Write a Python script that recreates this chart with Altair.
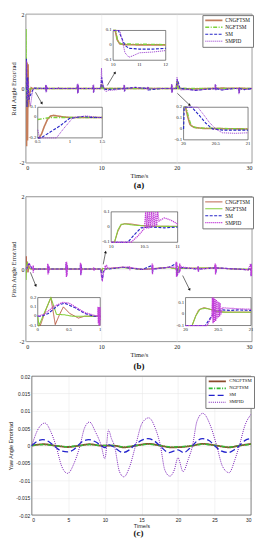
import altair as alt
import pandas as pd

SERIES = ["CNGFTSM", "NGFTSM", "SM", "SMPID"]
XTICKS = [0, 5, 10, 15, 20, 25, 30]
YTICKS_AB = [-2, -1.5, -1, -0.5, 0, 0.5, 1, 1.5, 2]
YTICKS_C = [-0.02, -0.015, -0.01, -0.005, 0, 0.005, 0.01, 0.015, 0.02]

# ---------------- (a) Roll angle error, main plot ----------------
ROLL_CNGFTSM = [(0, 0), (0.05, 0.8), (0.1, -1.55), (0.16, 0.7), (0.22, -1.4), (0.3, 0.65), (0.36, -0.5),
                (0.45, -0.15), (0.55, -0.1), (0.7, 0.02), (0.85, 0.0), (1.5, 0.0), (9.95, 0.0), (10.05, 0.12),
                (10.15, 0.02), (10.4, 0.0), (19.95, 0.0), (20.05, 0.2), (20.2, 0.0), (22.5, -0.01), (26, 0.01), (30, 0.0)]
ROLL_NGFTSM = [(0, 0), (0.03, 1.6), (0.08, -0.3), (0.15, 0.1), (0.3, -0.05), (0.5, -0.01), (1.5, 0), (9.95, 0),
               (10.05, 0.1), (10.2, 0.0), (19.95, 0.0), (20.05, 0.2), (20.2, 0.0), (30, 0.0)]
ROLL_SM = [(0, 0), (0.08, 0.8), (0.15, -0.5), (0.25, 0.3), (0.4, -0.3), (0.55, -0.2), (0.8, -0.1), (1.0, 0.0),
           (1.2, 0.01), (2.6, 0.0), (2.65, 0.08), (2.7, -0.08), (2.75, 0.06), (2.8, 0.0), (6.8, 0.0), (6.85, 0.1),
           (6.9, -0.12), (6.95, 0.08), (7.0, 0.0), (8.9, 0.0), (8.95, 0.08), (9.0, -0.1), (9.05, 0.0), (9.95, 0.0),
           (10.05, 0.3), (10.3, 0.0), (10.6, -0.025), (11.5, -0.02), (13.0, 0.0), (13.05, 0.08), (13.1, -0.07),
           (13.15, 0.0), (14.5, 0.03), (16.15, 0.0), (16.2, 0.04), (16.25, -0.04), (18, 0.0), (19.3, 0.0),
           (19.35, 0.1), (19.4, -0.1), (19.45, 0.0), (19.95, 0.0), (20.1, 0.25), (20.45, 0.0), (21.5, -0.02),
           (22.5, -0.05), (24, -0.02), (25.1, 0.0), (25.15, 0.1), (25.2, -0.04), (25.25, 0.0), (26, -0.04),
           (27.5, 0.0), (28.25, 0.0), (28.3, -0.12), (28.35, 0.0), (29, -0.03), (30, 0.0)]
ROLL_SMPID = [(0, 0), (0.1, 0.75), (0.2, -0.3), (0.3, 0.2), (0.45, -0.3), (0.6, -0.47), (0.7, -0.35), (0.79, -0.2),
              (0.9, -0.08), (1.05, 0.0), (1.25, 0.015), (1.5, 0.0), (2.6, 0.0), (2.64, 0.1), (2.68, -0.1),
              (2.72, 0.09), (2.76, -0.08), (2.8, 0.05), (2.84, 0.0), (4.3, 0.0), (4.33, 0.04), (4.36, 0.0),
              (6.78, 0.0), (6.82, 0.12), (6.86, -0.14), (6.9, 0.13), (6.94, -0.12), (6.98, 0.08), (7.02, 0.0),
              (8.88, 0.0), (8.92, 0.1), (8.96, -0.12), (9.0, 0.1), (9.04, -0.08), (9.08, 0.0), (9.95, 0.0),
              (10.03, 0.55), (10.1, 0.2), (10.25, 0.1), (10.35, 0.03), (10.45, -0.05), (10.6, -0.08),
              (10.75, -0.07), (11, -0.05), (11.5, -0.045), (12, -0.035), (12.98, 0.0), (13.02, 0.1),
              (13.06, -0.08), (13.1, 0.09), (13.14, -0.06), (13.18, 0.0), (14.5, 0.03), (16.12, 0.0),
              (16.16, 0.05), (16.2, -0.05), (16.24, 0.04), (16.28, 0.0), (18, 0.0), (19.28, 0.0), (19.32, 0.12),
              (19.36, -0.12), (19.4, 0.1), (19.44, -0.1), (19.48, 0.0), (19.95, 0.0), (20.05, 0.3), (20.12, 0.2),
              (20.22, 0.15), (20.3, 0.06), (20.4, 0.0), (20.5, -0.035), (20.6, -0.04), (20.8, -0.035),
              (21.5, -0.03), (22.5, -0.05), (24, -0.02), (25.08, 0.0), (25.12, 0.12), (25.16, -0.05),
              (25.2, 0.1), (25.24, -0.04), (25.28, 0.0), (26, -0.04), (27.5, 0.0), (28.22, 0.0), (28.26, -0.15),
              (28.3, 0.02), (28.34, -0.12), (28.38, 0.0), (29, -0.03), (30, 0.0)]

# (a) inset 1: t 0.5..1.5, y -0.2..0.1
A1_CNGFTSM = [(0.5, -0.2), (0.52, -0.2), (0.56, -0.16), (0.6, -0.09), (0.65, -0.02), (0.7, 0.015), (0.75, 0.02),
              (0.8, 0.015), (0.9, 0.005), (1.0, 0.0), (1.2, 0.0), (1.5, 0.0)]
A1_NGFTSM = [(0.5, -0.02), (0.6, -0.01), (0.7, 0.0), (1.0, 0.0), (1.5, 0.0)]
A1_SM = [(0.5, -0.2), (0.55, -0.2), (0.7, -0.14), (0.85, -0.08), (0.99, -0.01), (1.1, 0.0), (1.2, 0.01),
         (1.35, 0.0), (1.5, 0.0)]
A1_SMPID = [(0.5, -0.12), (0.53, -0.2), (0.79, -0.2), (0.9, -0.11), (1.05, 0.0), (1.25, 0.015), (1.45, 0.0),
            (1.5, 0.0)]
# (a) inset 2: t 10..12, y -0.1..0.1
A2_CNGFTSM = [(10.0, 0.1), (10.08, 0.1), (10.15, 0.04), (10.25, 0.01), (10.4, 0.005), (11, 0.003), (12, 0.003)]
A2_NGFTSM = [(10.0, 0.1), (10.1, 0.1), (10.17, 0.03), (10.3, 0.01), (12, 0.005)]
A2_SM = [(10.0, 0.1), (10.2, 0.1), (10.3, 0.06), (10.45, 0.0), (10.6, -0.02), (11, -0.025), (11.5, -0.025),
         (12, -0.02)]
A2_SMPID = [(10.0, 0.1), (10.25, 0.1), (10.35, 0.03), (10.45, -0.05), (10.6, -0.08), (10.75, -0.07),
            (11, -0.05), (11.5, -0.045), (12, -0.035)]
# (a) inset 3: t 20..21, y -0.1..0.2
A3_CNGFTSM = [(20.0, 0.2), (20.03, 0.2), (20.07, 0.1), (20.1, 0.04), (20.16, 0.015), (20.3, 0.005), (21, 0.0)]
A3_NGFTSM = [(20.0, 0.2), (20.04, 0.2), (20.08, 0.1), (20.12, 0.03), (20.2, 0.01), (21, 0.0)]
A3_SM = [(20.0, 0.0), (20.01, 0.2), (20.13, 0.2), (20.25, 0.12), (20.35, 0.05), (20.45, 0.0), (20.6, -0.01),
         (21, -0.01)]
A3_SMPID = [(20.0, 0.2), (20.22, 0.2), (20.3, 0.14), (20.4, 0.06), (20.5, 0.0), (20.6, -0.035), (20.8, -0.04),
            (21, -0.035)]

# ---------------- (b) Pitch angle error, main plot ----------------
PITCH_CNGFTSM = [(0, 0), (0.04, 0.35), (0.08, -0.1), (0.15, 0.15), (0.22, 0.2), (0.28, -0.09), (0.4, 0.1),
                 (0.5, 0.03), (0.7, 0.0), (9.95, 0.0), (10.05, -0.1), (10.15, 0.02), (10.5, 0.005),
                 (12.8, 0.05), (15.5, -0.01), (19, 0.05), (20.0, 0.0), (20.1, -0.1), (20.28, 0.06),
                 (20.6, 0.02), (25, 0.03), (28, 0.0), (29.5, -0.02), (30, 0.0)]
PITCH_NGFTSM = [(0, 0), (0.03, -0.3), (0.1, 0.1), (0.21, 0.2), (0.3, 0.02), (0.45, 0.015), (0.6, 0.0),
                (9.95, 0.0), (10.05, -0.1), (10.2, 0.02), (10.6, 0.005), (12.8, 0.04), (15.5, -0.01),
                (19, 0.04), (20, 0.0), (20.1, -0.1), (20.3, 0.055), (20.6, 0.02), (25, 0.03), (28, 0.0),
                (30, 0.0)]
PITCH_SM = [(0, 0), (0.17, 0.03), (0.33, 0.12), (0.43, 0.14), (0.6, 0.09), (0.75, 0.03), (0.9, 0.0), (2.9, 0.0),
            (2.95, 0.1), (3.0, -0.12), (3.05, 0.05), (3.1, 0.0), (5.3, 0.0), (5.35, 0.15), (5.4, -0.18),
            (5.45, 0.12), (5.5, 0.0), (7.2, 0.0), (7.25, 0.12), (7.3, -0.15), (7.35, 0.1), (7.4, 0.0),
            (9.95, 0.0), (10.05, -0.2), (10.15, -0.32), (10.25, -0.1), (10.45, 0.0), (11, 0.0), (12.8, 0.05),
            (15.5, -0.01), (16.75, 0.1), (16.8, -0.12), (16.85, 0.0), (19, 0.05), (19.95, 0.15), (20.0, -0.2),
            (20.05, 0.1), (20.1, -0.15), (20.3, -0.1), (20.42, 0.0), (20.6, 0.04), (21, 0.035), (22.8, 0.0),
            (22.85, 0.06), (22.9, -0.06), (23, 0.0), (25, 0.03), (25.15, 0.1), (25.2, -0.12), (25.25, 0.03),
            (28, 0.0), (29.5, -0.02), (29.85, 0.1), (29.9, -0.2), (29.95, 0.05), (30, 0.0)]
PITCH_SMPID = [(0, 0), (0.1, 0.02), (0.25, 0.1), (0.4, 0.15), (0.5, 0.14), (0.6, 0.1), (0.75, 0.04), (0.9, 0.01),
               (0.96, 0.0), (0.97, 0.1), (0.98, -0.1), (0.99, 0.1), (1.0, -0.05), (1.1, 0.0), (2.85, 0.0),
               (2.9, 0.15), (2.94, -0.15), (2.98, 0.12), (3.02, -0.12), (3.06, 0.08), (3.1, 0.0), (5.3, 0.0),
               (5.34, 0.2), (5.38, -0.22), (5.42, 0.2), (5.46, -0.18), (5.5, 0.1), (5.55, 0.0), (7.2, 0.0),
               (7.24, 0.17), (7.28, -0.18), (7.32, 0.15), (7.36, -0.12), (7.4, 0.0), (8.95, 0.0), (9.0, 0.05),
               (9.05, -0.05), (9.1, 0.0), (9.95, 0.0), (10.05, -0.25), (10.15, -0.3), (10.3, -0.1),
               (10.45, -0.03), (10.52, 0.1), (10.58, -0.01), (10.64, 0.1), (10.7, 0.1), (10.8, 0.06),
               (11, 0.02), (12.8, 0.05), (13.75, 0.06), (13.8, -0.03), (13.85, 0.04), (15.5, -0.01),
               (16.72, 0.0), (16.76, 0.15), (16.8, -0.15), (16.84, 0.12), (16.88, 0.0), (19, 0.05),
               (19.9, 0.05), (19.94, 0.2), (19.98, -0.22), (20.02, 0.18), (20.06, -0.2), (20.12, -0.1),
               (20.3, -0.1), (20.41, 0.15), (20.45, -0.07), (20.5, 0.1), (20.56, 0.06), (21, 0.045),
               (22.8, 0.0), (22.84, 0.08), (22.88, -0.08), (22.92, 0.0), (25, 0.03), (25.12, 0.15),
               (25.16, -0.15), (25.2, 0.12), (25.24, -0.05), (25.3, 0.03), (28, 0.0), (29.5, -0.02),
               (29.82, 0.15), (29.86, -0.2), (29.9, 0.12), (29.94, -0.18), (30, 0.0)]

# (b) inset 1: t 0..1, y -0.1..0.2
B1_CNGFTSM = [(0.0, -0.1), (0.04, -0.1), (0.12, 0.05), (0.21, 0.2), (0.28, -0.09), (0.35, 0.02), (0.41, 0.1),
              (0.51, 0.03), (0.65, -0.02), (0.75, 0.0), (1.0, 0.0)]
B1_NGFTSM = [(0.0, 0.0), (0.02, -0.1), (0.12, 0.06), (0.21, 0.2), (0.3, 0.02), (0.43, 0.015), (0.55, 0.0),
             (1.0, 0.0)]
B1_SM = [(0.0, 0.0), (0.06, 0.0), (0.17, 0.03), (0.33, 0.12), (0.43, 0.14), (0.6, 0.09), (0.75, 0.03),
         (0.9, 0.0), (1.0, 0.0)]
B1_SMPID = [(0.0, 0.0), (0.1, 0.02), (0.25, 0.1), (0.4, 0.15), (0.5, 0.14), (0.6, 0.1), (0.75, 0.04),
            (0.9, 0.01), (0.96, 0.0), (0.965, 0.1), (0.97, -0.08), (0.975, 0.1), (0.98, -0.1), (0.985, 0.1),
            (0.99, -0.1), (0.995, 0.1), (1.0, -0.05)]
# (b) inset 2: t 10..11, y -0.1..0.1
B2_CNGFTSM = [(10.0, -0.1), (10.05, -0.1), (10.1, -0.03), (10.15, 0.015), (10.2, 0.022), (10.3, 0.02),
              (10.45, 0.01), (10.6, 0.005), (11, 0.005)]
B2_NGFTSM = [(10.0, -0.1), (10.05, -0.1), (10.1, -0.02), (10.15, 0.018), (10.22, 0.02), (10.35, 0.012),
             (10.6, 0.005), (11, 0.004)]
B2_SM = [(10.0, -0.1), (10.25, -0.1), (10.35, -0.05), (10.45, -0.005), (10.6, 0.0), (10.8, -0.005), (11, 0.0)]
B2_SMPID = [(10.0, -0.1), (10.3, -0.1), (10.4, -0.06), (10.5, -0.01), (10.52, 0.1), (10.535, -0.01),
            (10.55, 0.1), (10.565, -0.01), (10.58, 0.1), (10.595, -0.005), (10.61, 0.1), (10.625, 0.0),
            (10.64, 0.1), (10.655, 0.0), (10.67, 0.1), (10.685, 0.01), (10.7, 0.1), (10.72, 0.04),
            (10.8, 0.06), (10.9, 0.045), (11, 0.02)]
# (b) inset 3: t 20..21, y -0.1..0.15
B3_CNGFTSM = [(20.0, -0.1), (20.1, -0.1), (20.15, -0.02), (20.2, 0.04), (20.28, 0.06), (20.35, 0.05),
              (20.45, 0.03), (20.6, 0.02), (21, 0.02)]
B3_NGFTSM = [(20.0, -0.1), (20.1, -0.1), (20.16, -0.01), (20.22, 0.045), (20.3, 0.055), (20.4, 0.04),
             (20.55, 0.02), (21, 0.018)]
B3_SM = [(20.0, -0.1), (20.3, -0.1), (20.37, -0.04), (20.42, 0.0), (20.45, 0.03), (20.56, 0.04), (20.7, 0.035),
         (20.8, 0.04), (21, 0.035)]
B3_SMPID = [(20.0, -0.1), (20.33, -0.1), (20.4, -0.02), (20.41, 0.15), (20.42, -0.08), (20.43, 0.15),
            (20.44, -0.07), (20.45, 0.14), (20.46, -0.06), (20.47, 0.13), (20.48, -0.04), (20.49, 0.12),
            (20.5, -0.03), (20.51, 0.11), (20.52, -0.02), (20.53, 0.1), (20.54, 0.0), (20.56, 0.06),
            (20.65, 0.055), (20.8, 0.05), (21, 0.045)]

# ---------------- (c) Yaw angle error ----------------
YAW_CNGFTSM = [(0, 0), (1.6, 0.0004), (3.2, 0), (4.9, -0.0004), (6.5, 0), (7.9, 0.0004), (9.5, 0), (11.2, 0),
               (12.6, -0.0005), (14.2, 0), (16, 0.0005), (17.6, 0), (19, -0.0005), (20.5, -0.0004), (22, 0),
               (23.4, 0.0005), (25.3, 0), (27, -0.0005), (28.4, 0), (30, 0.0005)]
YAW_NGFTSM = [(0, 0), (1.6, 0.0003), (3.2, 0), (4.9, -0.0003), (6.5, 0), (7.9, 0.0003), (9.5, 0), (11.2, 0),
              (12.6, -0.0004), (14.2, 0), (16, 0.0004), (17.6, 0), (19, -0.0004), (20.5, -0.0003), (22, 0),
              (23.4, 0.0004), (25.3, 0), (27, -0.0004), (28.4, 0), (30, 0.0004)]
YAW_SM = [(0, 0), (0.7, 0.0012), (1.5, 0.0017), (2.3, 0.0012), (3.0, 0), (4.0, -0.0015), (4.9, -0.0018),
          (5.7, -0.0012), (6.3, 0), (7.0, 0.0013), (7.8, 0.0017), (8.7, 0.0011), (9.5, 0), (10.0, -0.0006),
          (10.5, 0.0003), (11.2, -0.0004), (12.5, -0.002), (13.3, -0.0013), (14.0, 0), (15.0, 0.0015),
          (15.9, 0.002), (16.8, 0.0013), (17.5, 0), (18.8, -0.002), (20.0, -0.0012), (20.8, -0.002),
          (21.5, -0.001), (22.0, 0), (22.7, 0.0015), (23.4, 0.002), (24.3, 0.0014), (25.0, 0), (26.0, -0.0016),
          (26.9, -0.002), (27.7, -0.0012), (28.4, 0), (29.2, 0.0015), (30, 0.002)]
YAW_SMPID = [(0, 0), (0.8, 0.0045), (1.8, 0.0065), (2.6, 0.004), (3.3, 0), (4.1, -0.006), (4.9, -0.008),
             (5.8, -0.005), (6.6, 0), (7.2, 0.005), (7.9, 0.0068), (8.7, 0.004), (9.5, 0), (10.0, -0.0038),
             (10.5, 0.0045), (10.9, 0.002), (11.3, 0), (12.0, -0.0075), (12.6, -0.009), (13.4, -0.006),
             (14.2, 0), (15.1, 0.0065), (16.0, 0.008), (16.9, 0.005), (17.6, 0), (18.2, -0.007),
             (18.9, -0.0088), (19.5, -0.007), (20.0, -0.0035), (20.7, -0.0075), (21.4, -0.004), (22.0, 0),
             (22.6, 0.007), (23.4, 0.0093), (24.4, 0.006), (25.3, 0), (26.1, -0.006), (27.0, -0.0078),
             (27.8, -0.004), (28.4, 0), (29.2, 0.006), (30, 0.009)]

# arrows: (tail t, tail v, tip t, tip v) in main-plot data units
ARROWS_A = [(1.28, -0.1, 2.1, -0.39), (10.8, 0.08, 11.8, 0.42), (20.1, -0.13, 21.7, -0.44)]
ARROWS_B = [(0.6, -0.09, 1.3, -0.45), (10.26, 0.13, 10.57, 0.46), (20.8, -0.18, 21.7, -0.56)]


def long_df(d):
    rows = []
    for s, pts in d.items():
        for i, (t, v) in enumerate(pts):
            rows.append({"series": s, "t": t, "v": v, "i": i})
    return pd.DataFrame(rows)


def enc_style(style, leg):
    return dict(
        color=alt.Color("series:N", scale=alt.Scale(domain=SERIES, range=style["colors"]), legend=leg),
        strokeDash=alt.StrokeDash("series:N", scale=alt.Scale(domain=SERIES, range=style["dashes"]), legend=leg),
        strokeWidth=alt.StrokeWidth("series:N", scale=alt.Scale(domain=SERIES, range=style["widths"]), legend=leg),
        order=alt.Order("i:Q"),
    )


def make_legend(font, fs, lx, ly):
    return alt.Legend(orient="none", legendX=lx, legendY=ly, title=None, symbolType="stroke",
                      symbolSize=300, clipHeight=6.6, labelFontSize=fs, labelFont=font, labelColor="#111",
                      fillColor="white", strokeColor="#777", padding=2, rowPadding=0, labelOffset=2,
                      columnPadding=0)


def inset(d, xdom, ydom, xr, yr, xt, xl, yt, yl, style, leg, font):
    xs = alt.Scale(domain=xdom, range=xr, nice=False, zero=False)
    ys = alt.Scale(domain=ydom, range=yr, nice=False, zero=False)
    frame = alt.Chart(pd.DataFrame({"x0": [xdom[0]], "x1": [xdom[1]], "y0": [ydom[0]], "y1": [ydom[1]]})).mark_rect(
        fill="white", stroke="#333", strokeWidth=0.6).encode(
        x=alt.X("x0:Q", scale=xs, axis=None), x2="x1:Q", y=alt.Y("y0:Q", scale=ys, axis=None), y2="y1:Q")
    lines = alt.Chart(long_df(d)).mark_line().encode(
        x=alt.X("t:Q", scale=xs, axis=None), y=alt.Y("v:Q", scale=ys, axis=None), **enc_style(style, leg))
    xlab = alt.Chart(pd.DataFrame({"x": xt, "y": [ydom[0]] * len(xt), "lab": xl})).mark_text(
        baseline="top", dy=1.5, fontSize=4.8, font=font, color="#222").encode(
        x=alt.X("x:Q", scale=xs, axis=None), y=alt.Y("y:Q", scale=ys, axis=None), text="lab:N")
    ylab = alt.Chart(pd.DataFrame({"x": [xdom[0]] * len(yt), "y": yt, "lab": yl})).mark_text(
        align="right", baseline="middle", dx=-1.5, fontSize=4.8, font=font, color="#222").encode(
        x=alt.X("x:Q", scale=xs, axis=None), y=alt.Y("y:Q", scale=ys, axis=None), text="lab:N")
    return alt.layer(frame, lines, xlab, ylab)


def arrows_layer(arrows, ydom, angles):
    rows_l, rows_h = [], []
    for k, (t0, v0, t1, v1) in enumerate(arrows):
        rows_l += [{"a": k, "t": t0, "v": v0, "o": 0}, {"a": k, "t": t1, "v": v1, "o": 1}]
        rows_h.append({"a": k, "t": t1, "v": v1, "ang": angles[k]})
    xs = alt.Scale(domain=[0, 30], nice=False, zero=False)
    ys = alt.Scale(domain=ydom, nice=False, zero=False)
    ln = alt.Chart(pd.DataFrame(rows_l)).mark_line(color="#111", strokeWidth=0.6).encode(
        x=alt.X("t:Q", scale=xs), y=alt.Y("v:Q", scale=ys), detail="a:N", order="o:Q")
    hd = alt.Chart(pd.DataFrame(rows_h)).mark_point(shape="triangle", filled=True, color="#111", size=9,
                                                   opacity=1).encode(
        x=alt.X("t:Q", scale=xs), y=alt.Y("v:Q", scale=ys),
        angle=alt.Angle("ang:Q", scale=None))
    return [ln, hd]


def axis(vals, title, font, lfs, tfs, **kw):
    return alt.Axis(values=vals, title=title, grid=True, labelFont=font, titleFont=font, labelFontSize=lfs,
                    titleFontSize=tfs, labelExpr="'' + datum.value", titleFontWeight="normal",
                    labelOverlap=False, labelBound=False, **kw)


def main_chart(d, ydom, yticks, ytitle, style, leg, font, label_fs, title_fs):
    xs = alt.Scale(domain=[0, 30], nice=False, zero=False)
    ys = alt.Scale(domain=ydom, nice=False, zero=False)
    return alt.Chart(long_df(d)).mark_line(clip=True).encode(
        x=alt.X("t:Q", scale=xs, axis=axis(XTICKS, "Time/s", font, label_fs, title_fs)),
        y=alt.Y("v:Q", scale=ys, axis=axis(yticks, ytitle, font, label_fs, title_fs)),
        **enc_style(style, leg))


SERIF = "Liberation Serif"
SANS = "Liberation Sans"
STYLE_A = {"colors": ["#C47D5A", "#7CD23A", "#2626C8", "#9A3FD0"],
           "dashes": [[1, 0], [4, 1.5, 1, 1.5], [3, 1.5], [1.2, 0.8]],
           "widths": [1.6, 0.9, 1.1, 0.9]}
STYLE_B = {"colors": ["#B0482E", "#86CE3C", "#2626C8", "#C23FD8"],
           "dashes": [[1, 0], [1, 0], [3, 1.5], [1.2, 0.8]],
           "widths": [0.9, 1.3, 1.0, 0.9]}
STYLE_C = {"colors": ["#8B4A2B", "#33BB33", "#2222CC", "#7A1FB8"],
           "dashes": [[1, 0], [4, 1.5, 1, 1.5], [6, 3], [1, 1.1]],
           "widths": [1.8, 1.0, 1.6, 1.2]}

W = 228
HA, HB, HC = 150, 146, 140
WC = 227
CSHIFT = 6
LFS = 6

# ---- panel (a)
leg_a = make_legend(SERIF, 5.3, W - 50, 1)
main_a = main_chart({"CNGFTSM": ROLL_CNGFTSM, "NGFTSM": ROLL_NGFTSM, "SM": ROLL_SM, "SMPID": ROLL_SMPID},
                    [-2, 2], YTICKS_AB, "Roll Angle Error/rad", STYLE_A, leg_a, SERIF, LFS, 6.5)
arr_a = arrows_layer(ARROWS_A, [-2, 2], [151, 30, 134])
ins_a1 = inset({"CNGFTSM": A1_CNGFTSM, "NGFTSM": A1_NGFTSM, "SM": A1_SM, "SMPID": A1_SMPID},
               [0.5, 1.5], [-0.2, 0.1], [12, 77], [HA * 0.832, HA * 0.626],
               [0.5, 1, 1.5], ["0.5", "1", "1.5"], [0.1, 0, -0.2], ["0.1", "0", "-0.2"], STYLE_A, leg_a, SERIF)
ins_a2 = inset({"CNGFTSM": A2_CNGFTSM, "NGFTSM": A2_NGFTSM, "SM": A2_SM, "SMPID": A2_SMPID},
               [10, 12], [-0.1, 0.1], [88, 141], [HA * 0.31, HA * 0.11],
               [10, 11, 12], ["10", "11", "12"], [0.1, 0, -0.1], ["0.1", "0", "-0.1"], STYLE_A, leg_a, SERIF)
ins_a3 = inset({"CNGFTSM": A3_CNGFTSM, "NGFTSM": A3_NGFTSM, "SM": A3_SM, "SMPID": A3_SMPID},
               [20, 21], [-0.1, 0.2], [159, 224], [HA * 0.845, HA * 0.626],
               [20, 20.5, 21], ["20", "20.5", "21"], [0.2, 0.1, 0, -0.1], ["0.2", "0.1", "0", "-0.1"],
               STYLE_A, leg_a, SERIF)
panel_a = alt.layer(alt.layer(main_a, *arr_a), ins_a1, ins_a2, ins_a3).resolve_scale(
    x="independent", y="independent").properties(
    width=W, height=HA,
    title=alt.TitleParams("(a)", orient="bottom", font=SERIF, fontSize=9, fontWeight="bold", offset=2))

# ---- panel (b)
leg_b = make_legend(SERIF, 5.3, W - 50, 0)
main_b = main_chart({"CNGFTSM": PITCH_CNGFTSM, "NGFTSM": PITCH_NGFTSM, "SM": PITCH_SM, "SMPID": PITCH_SMPID},
                    [-2, 2], YTICKS_AB, "Pitch Angle Error/rad", STYLE_B, leg_b, SERIF, LFS, 6.5)
arr_b = arrows_layer(ARROWS_B, [-2, 2], [158, 11, 154])
ins_b1 = inset({"CNGFTSM": B1_CNGFTSM, "NGFTSM": B1_NGFTSM, "SM": B1_SM, "SMPID": B1_SMPID},
               [0, 1], [-0.1, 0.2], [12, 75], [HB * 0.890, HB * 0.697],
               [0, 0.5, 1], ["0", "0.5", "1"], [0.2, 0.1, 0, -0.1], ["0.2", "0.1", "0", "-0.1"],
               STYLE_B, leg_b, SERIF)
ins_b2 = inset({"CNGFTSM": B2_CNGFTSM, "NGFTSM": B2_NGFTSM, "SM": B2_SM, "SMPID": B2_SMPID},
               [10, 11], [-0.1, 0.1], [86, 153], [HB * 0.315, HB * 0.105],
               [10, 10.5, 11], ["10", "10.5", "11"], [0.1, 0, -0.1], ["0.1", "0", "-0.1"], STYLE_B, leg_b, SERIF)
ins_b3 = inset({"CNGFTSM": B3_CNGFTSM, "NGFTSM": B3_NGFTSM, "SM": B3_SM, "SMPID": B3_SMPID},
               [20, 21], [-0.1, 0.15], [161, 227], [HB * 0.890, HB * 0.697],
               [20, 20.5, 21], ["20", "20.5", "21"], [0.1, 0, -0.1], ["0.1", "0", "-0.1"], STYLE_B, leg_b, SERIF)
panel_b = alt.layer(alt.layer(main_b, *arr_b), ins_b1, ins_b2, ins_b3).resolve_scale(
    x="independent", y="independent").properties(
    width=W, height=HB,
    title=alt.TitleParams("(b)", orient="bottom", font=SERIF, fontSize=9, fontWeight="bold", offset=4))

# ---- panel (c): plot area shifted right by CSHIFT inside a wider view
leg_c = make_legend(SERIF, 4.8, WC - 46, 0)
xs_c = alt.Scale(domain=[0, 30], range=[CSHIFT, WC], nice=False, zero=False)
ys_c = alt.Scale(domain=[-0.02, 0.02], nice=False, zero=False)
ax_xc = axis(XTICKS, "Time/s", SANS, 5, 5.5)
ax_yc = axis(YTICKS_C, "Yaw Angle Error/rad", SANS, 5, 5.5, offset=-CSHIFT)
frame_c = alt.Chart(pd.DataFrame({"x0": [0], "x1": [30], "y0": [-0.02], "y1": [0.02]})).mark_rect(
    filled=False, stroke="#333", strokeWidth=0.6).encode(
    x=alt.X("x0:Q", scale=xs_c, axis=ax_xc), x2="x1:Q", y=alt.Y("y0:Q", scale=ys_c, axis=ax_yc), y2="y1:Q")
lines_c = alt.Chart(long_df({"CNGFTSM": YAW_CNGFTSM, "NGFTSM": YAW_NGFTSM, "SM": YAW_SM, "SMPID": YAW_SMPID})
                    ).mark_line(interpolate="monotone", clip=True).encode(
    x=alt.X("t:Q", scale=xs_c, axis=ax_xc), y=alt.Y("v:Q", scale=ys_c, axis=ax_yc), **enc_style(STYLE_C, leg_c))
panel_c = alt.layer(frame_c, lines_c).properties(
    width=WC, height=HC, view=alt.ViewBackground(stroke="transparent"),
    title=alt.TitleParams("(c)", orient="bottom", font=SERIF, fontSize=9, fontWeight="bold", offset=0))

chart = alt.vconcat(panel_a, panel_b, panel_c, spacing=2).resolve_scale(
    color="independent", strokeDash="independent", strokeWidth="independent").properties(
    padding={"left": 0, "top": 0, "right": 0, "bottom": 0}).configure_view(
    stroke="#333", strokeWidth=0.6).configure_axis(
    ticks=False, domain=False, gridColor="#e4e4e4", gridWidth=0.5, labelColor="#222", titleColor="#222",
    labelPadding=2, titlePadding=2).configure_title(color="#111")

chart.save("out.html", embed_options={"renderer": "svg", "actions": False})
